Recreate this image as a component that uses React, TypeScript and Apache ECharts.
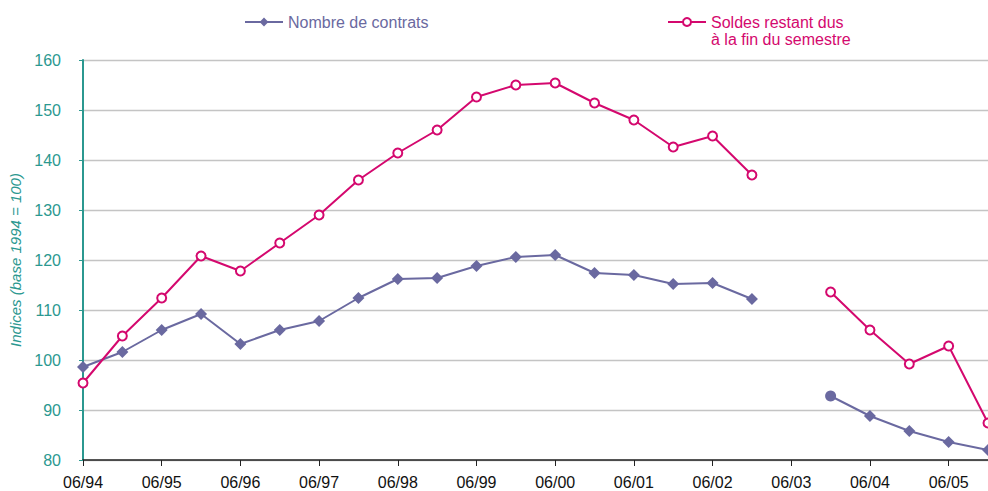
import React, { useEffect, useRef } from "react";
import * as echarts from "echarts";

const categories: string[] = [
  "06/94", "12/94", "06/95", "12/95", "06/96", "12/96", "06/97", "12/97",
  "06/98", "12/98", "06/99", "12/99", "06/00", "12/00", "06/01", "12/01",
  "06/02", "12/02", "06/03", "12/03", "06/04", "12/04", "06/05", "12/05",
];

const nombreContrats: (number | null)[] = [
  98.6, 101.6, 106.0, 109.2, 103.2, 106.0, 107.8, 112.4,
  116.2, 116.4, 118.8, 120.6, 121.0, 117.4, 117.0, 115.2,
  115.4, 112.2, null, 92.8, 88.8, 85.8, 83.6, 82.0,
];

const soldesRestant: (number | null)[] = [
  95.4, 104.8, 112.4, 120.8, 117.8, 123.4, 129.0, 136.0,
  141.4, 146.0, 152.6, 155.0, 155.4, 151.4, 148.0, 142.6,
  144.8, 137.0, null, 113.6, 106.0, 99.2, 102.8, 87.4,
];

const yTicks = { min: 80, max: 160, interval: 10 };

const PURPLE = "#6a69a0";
const MAGENTA = "#d4086e";
const TEAL = "#2b9890";
const FONT = "Liberation Sans, Arial, sans-serif";

export default function App() {
  const ref = useRef<HTMLDivElement>(null);
  useEffect(() => {
    if (!ref.current) return;
    const chart = echarts.init(ref.current, null, { renderer: "svg" });
    const contratsData = nombreContrats.map((v, i) =>
      i === 19 ? { value: v, symbol: "circle", symbolSize: 11 } : v
    );
    chart.setOption({
      animation: false,
      textStyle: { fontFamily: FONT },
      grid: { left: 83, width: 908, top: 60, height: 400, containLabel: false },
      legend: [
        {
          data: ["Nombre de contrats"],
          left: 239,
          top: 9,
          itemWidth: 38,
          itemHeight: 11,
          textStyle: { color: PURPLE, fontSize: 16, fontFamily: FONT },
        },
        {
          data: ["Soldes restant dus"],
          left: 662,
          top: 9,
          itemWidth: 38,
          itemHeight: 10,
          textStyle: { color: MAGENTA, fontSize: 16, fontFamily: FONT },
        },
      ],
      graphic: [
        {
          type: "text",
          left: 711,
          top: 31,
          style: {
            text: "à la fin du semestre",
            fill: MAGENTA,
            fontSize: 16,
            fontFamily: FONT,
          },
        },
      ],
      xAxis: {
        type: "category",
        data: categories,
        boundaryGap: false,
        axisLine: { lineStyle: { color: "#222", width: 1.5 } },
        axisTick: { interval: 1, length: 6, lineStyle: { color: "#222" } },
        axisLabel: { interval: 1, color: "#111", fontSize: 16, margin: 14, fontFamily: FONT },
        splitLine: { show: false },
      },
      yAxis: {
        type: "value",
        min: yTicks.min,
        max: yTicks.max,
        interval: yTicks.interval,
        name: "Indices (base 1994 = 100)",
        nameLocation: "middle",
        nameGap: 57,
        nameTextStyle: { color: TEAL, fontSize: 15, fontStyle: "italic", fontFamily: FONT },
        axisLine: { show: true, lineStyle: { color: TEAL, width: 2 } },
        axisTick: { show: true, length: 4, lineStyle: { color: TEAL } },
        axisLabel: { color: TEAL, fontSize: 16, margin: 22, fontFamily: FONT },
        splitLine: { lineStyle: { color: "#c4c4c4", width: 1.3 } },
      },
      series: [
        {
          name: "Nombre de contrats",
          type: "line",
          data: contratsData,
          symbol: "diamond",
          symbolSize: 12,
          connectNulls: false,
          itemStyle: { color: PURPLE },
          lineStyle: { color: PURPLE, width: 2 },
          clip: false,
        },
        {
          name: "Soldes restant dus",
          type: "line",
          data: soldesRestant,
          symbol: "emptyCircle",
          symbolSize: 9,
          connectNulls: false,
          itemStyle: { color: MAGENTA, borderWidth: 2 },
          lineStyle: { color: MAGENTA, width: 2 },
          clip: false,
        },
      ],
    });
    return () => chart.dispose();
  }, []);
  return <div ref={ref} style={{ width: 988, height: 491, position: "absolute", left: 0, top: 0 }} />;
}
